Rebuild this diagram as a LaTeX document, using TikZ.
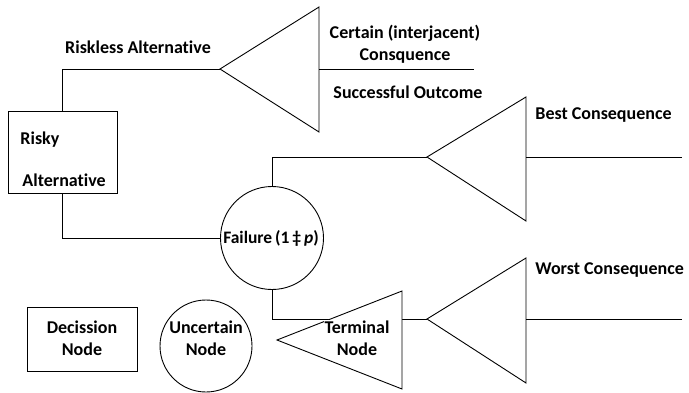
\documentclass[tikz,border=0pt]{standalone}
\usepackage{fontspec}
\setmainfont{Carlito}[Ligatures={NoCommon}]
\begin{document}
\begin{tikzpicture}[x=1pt,y=-1pt,line width=0.9pt,
  lbl/.style={font=\bfseries\fontsize{18}{22}\selectfont,inner sep=0pt},
  two/.style={lbl,align=center}]
\useasboundingbox (0,0) rectangle (689,392);
% coordinates
\coordinate (t1a) at (220,69); \coordinate (t1t) at (319,7); \coordinate (t1b) at (319,132); \coordinate (t1r) at (319,69);
\coordinate (t2a) at (427,157); \coordinate (t2t) at (526,97); \coordinate (t2b) at (526,221); \coordinate (t2r) at (526,157);
\coordinate (t3a) at (427,319); \coordinate (t3t) at (526,258); \coordinate (t3b) at (526,383); \coordinate (t3r) at (526,319);
\coordinate (c1end) at (474,69); \coordinate (c2end) at (682,157); \coordinate (c3end) at (682,319);
% risky box
\node[draw,minimum width=109pt,minimum height=82pt,inner sep=0pt] (risky) at (62.5,152) {};
\node[lbl,anchor=west] (riskyA) at (20,140) {Risky};
\node[lbl,anchor=west] (riskyB) at (22,180) {Alternative};
% failure circle
\node[draw,circle,minimum size=103pt,inner sep=0pt] (fail) at (272,238) {};
% triangles
\draw (t1a) -- (t1t) -- (t1b) -- cycle;
\draw (t2a) -- (t2t) -- (t2b) -- cycle;
\draw (t3a) -- (t3t) -- (t3b) -- cycle;
% connectors
\draw (risky.north) |- (t1a);
\draw (t1r) -- (c1end);
\draw (risky.south) |- (fail.west);
\draw (fail.north) |- (t2a);
\draw (t2r) -- (c2end);
\draw (fail.south) |- (t3a);
\draw (t3r) -- (c3end);
% terminal triangle (legend)
\coordinate (ta) at (277,340); \coordinate (tt) at (402,291); \coordinate (tb) at (402,389);
\filldraw[fill=white] (ta) -- (tt) -- (tb) -- cycle;
\node[two,fill=white,inner sep=1pt] (term) at (357,338) {Terminal\\Node};
% legend nodes
\node[draw,minimum width=110pt,minimum height=64pt,inner sep=0pt] (dec) at (82,339) {};
\node[two] (decT) at (82,338) {Decission\\Node};
\node[draw,circle,minimum size=92pt,inner sep=0pt] (unc) at (206,346) {};
\node[two] (uncT) at (206,338) {Uncertain\\Node};
% labels
\node[lbl] (rl) at (138,47) {Riskless Alternative};
\node[two] (cert) at (405,44) {Certain (interjacent)\\Consquence};
\node[lbl] (succ) at (408,92) {Successful Outcome};
\node[lbl,anchor=west] (best) at (535,115) {Best Consequence};
\node[lbl,anchor=west] (worst) at (535,270) {Worst Consequence};
\node[lbl,font=\bfseries\fontsize{17.5}{20}\selectfont,fill=white,inner sep=0.5pt] (failT) at (271,238) {Failure\,(1\,‡\,\textit{p})};
\end{tikzpicture}
\end{document}
